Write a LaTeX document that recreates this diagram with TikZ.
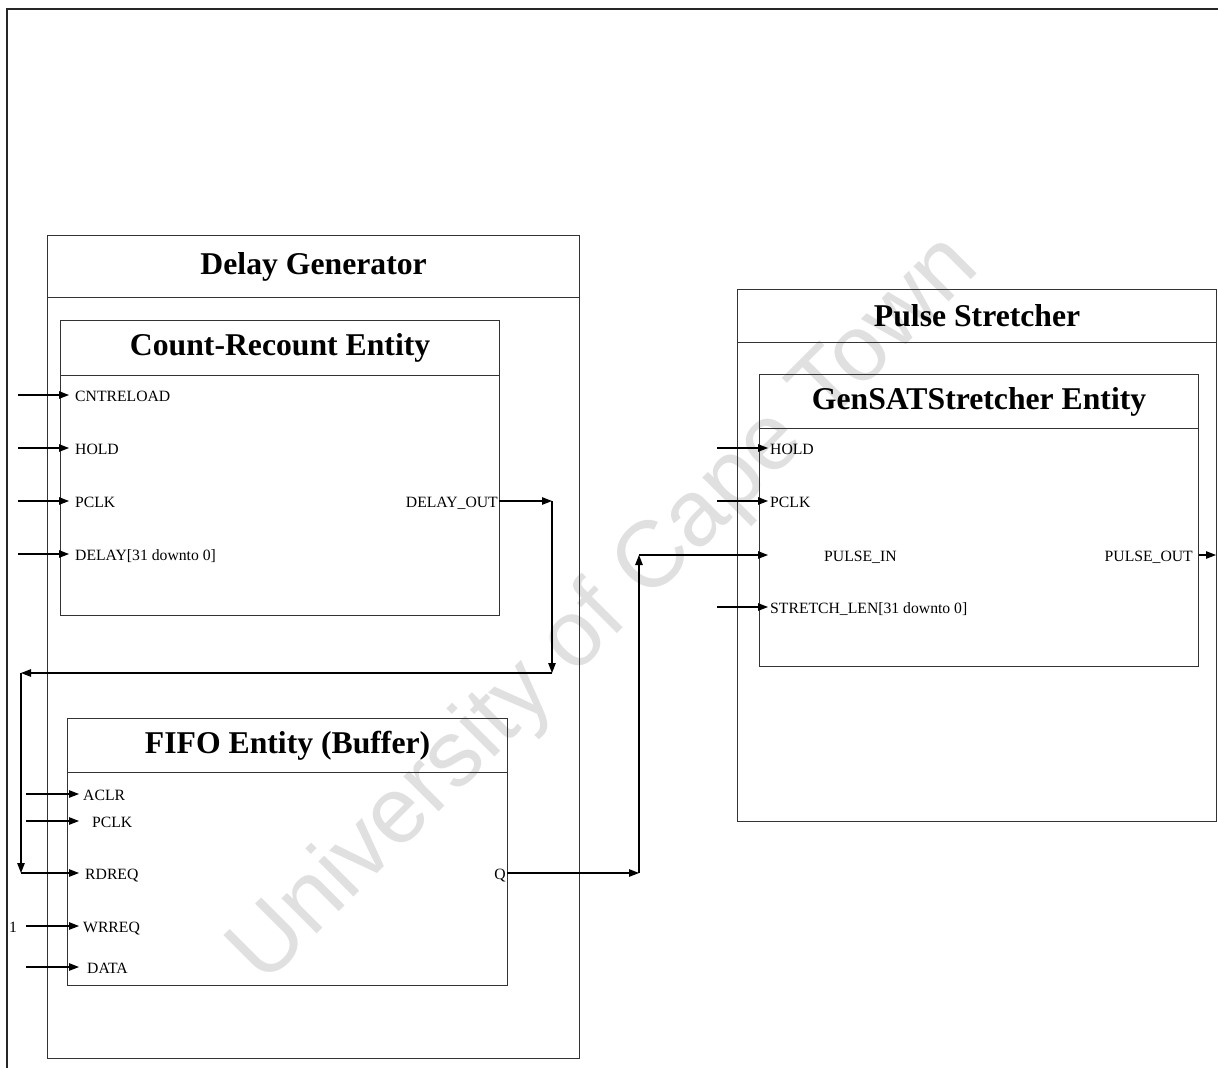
\documentclass[tikz,border=0pt]{standalone}
\usepackage{fontspec}
\setmainfont{Liberation Serif}
\newfontfamily\wmfont{Liberation Sans}
\usetikzlibrary{arrows.meta}

\begin{document}
\begin{tikzpicture}[x=1pt,y=-1pt,
  box/.style={draw=black!80, line width=1.2pt, inner sep=0pt, anchor=north west},
  titletext/.style={font=\fontsize{31.7}{36}\selectfont\bfseries},
  port/.style={font=\fontsize{15.7}{18}\selectfont, inner sep=0pt,
               text height=12pt, text depth=0pt},
  sig/.style={draw=black, line width=1.1pt, -{Triangle[length=10pt,width=7.5pt]}},
]
\useasboundingbox (0,0) rectangle (1218,1068);

% watermark
\node[rotate=45, text=black!12, font=\wmfont\fontsize{94}{94}\selectfont]
  (wm) at (606,611) {University of Cape Town};

% page frame
\draw[black!85, line width=1.2pt] (7,1068) -- (7,9) -- (1218,9);

% ---------------- Delay Generator ----------------
\node[box, titletext, minimum width=532pt, minimum height=62pt] (dgT) at (47,235) {Delay Generator};
\node[box, minimum width=532pt, minimum height=761pt] (dgB) at (47,297) {};

% Count-Recount entity
\node[box, titletext, minimum width=439pt, minimum height=55pt] (crT) at (60,320) {Count-Recount Entity};
\node[box, minimum width=439pt, minimum height=240pt] (crB) at (60,375) {};

\node[port, anchor=west] (crLoad)  at (75,395) {CNTRELOAD};
\node[port, anchor=west] (crHold)  at (75,448) {HOLD};
\node[port, anchor=west] (crClk)   at (75,501) {PCLK};
\node[port, anchor=west] (crDelay) at (75,554) {DELAY[31 downto 0]};
\node[port, anchor=east] (crOut)   at (498,501) {DELAY\_OUT};

\foreach \n/\y in {Load/395, Hold/448, Clk/501, Delay/554} {
  \coordinate (cr\n-src) at (18,\y);
  \coordinate (cr\n-pin) at (69,\y);
  \draw[sig] (cr\n-src) -- (cr\n-pin);
}

% FIFO entity
\node[box, titletext, minimum width=440pt, minimum height=54pt] (ffT) at (67,718) {FIFO Entity (Buffer)};
\node[box, minimum width=440pt, minimum height=213pt] (ffB) at (67,772) {};

\node[port, anchor=west] (ffAclr) at (83,794) {ACLR};
\node[port, anchor=west] (ffClk)  at (92,821) {PCLK};
\node[port, anchor=west] (ffRd)   at (85,873) {RDREQ};
\node[port, anchor=west] (ffWr)   at (83,926) {WRREQ};
\node[port, anchor=west] (ffData) at (87,967) {DATA};
\node[port, anchor=east] (ffQ)    at (506,873) {Q};
\node[port] (one) at (13,926) {1};

\foreach \n/\y in {Aclr/794, Clk/821, Wr/926, Data/967} {
  \coordinate (ff\n-src) at (26,\y);
  \coordinate (ff\n-pin) at (79,\y);
  \draw[sig] (ff\n-src) -- (ff\n-pin);
}
\coordinate (ffRd-pin) at (79,873);

% ---------------- Pulse Stretcher ----------------
\node[box, titletext, minimum width=479pt, minimum height=53pt] (psT) at (737,289) {Pulse Stretcher};
\node[box, minimum width=479pt, minimum height=479pt] (psB) at (737,342) {};

\node[box, titletext, minimum width=439pt, minimum height=54pt] (gsT) at (759,374) {GenSATStretcher Entity};
\node[box, minimum width=439pt, minimum height=238pt] (gsB) at (759,428) {};

\node[port, anchor=west] (gsHold)    at (770,448) {HOLD};
\node[port, anchor=west] (gsClk)     at (770,501) {PCLK};
\node[port, anchor=west] (gsIn)      at (824,555) {PULSE\_IN};
\node[port, anchor=west] (gsStretch) at (770,607) {STRETCH\_LEN[31 downto 0]};
\node[port, anchor=east] (gsOut)     at (1193,555) {PULSE\_OUT};

\foreach \n/\y in {Hold/448, Clk/501, Stretch/607} {
  \coordinate (gs\n-src) at (717,\y);
  \coordinate (gs\n-pin) at (768,\y);
  \draw[sig] (gs\n-src) -- (gs\n-pin);
}
\coordinate (gsIn-pin) at (768,555);
\coordinate (gsOut-pin) at (1199,555);
\coordinate (gsOut-dst) at (1216,555);
\draw[sig] (gsOut-pin) -- (gsOut-dst);

% ---------------- interconnect ----------------
% DELAY_OUT feeds back to RDREQ
\coordinate (d1) at (552,501);
\coordinate (d2) at (552,673);
\coordinate (d3) at (21,673);
\coordinate (d4) at (21,873);
\coordinate (crOut-pin) at (499,501);
\draw[sig] (crOut-pin) -- (d1);
\draw[sig] (d1) -- (d2);
\draw[sig] (d2) -- (d3);
\draw[sig] (d3) -- (d4);
\draw[sig] (d4) -- (ffRd-pin);

% Q drives PULSE_IN
\coordinate (ffQ-pin) at (507,873);
\coordinate (q1) at (639,873);
\coordinate (q2) at (639,555);
\draw[sig] (ffQ-pin) -- (q1);
\draw[sig] (q1) -- (q2);
\draw[sig] (q2) -- (gsIn-pin);
\end{tikzpicture}
\end{document}
